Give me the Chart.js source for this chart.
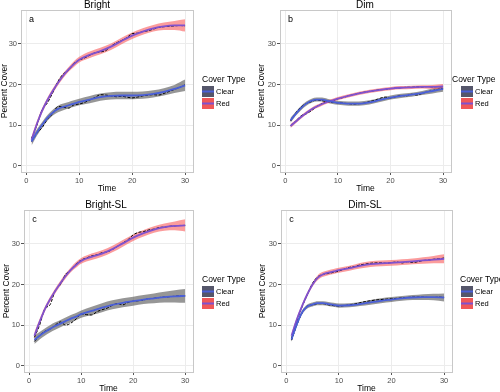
<!DOCTYPE html>
<html>
<head>
<meta charset="utf-8">
<script src="https://cdn.jsdelivr.net/npm/chart.js@4.4.1/dist/chart.umd.min.js"></script>
<style>
  html, body { margin: 0; padding: 0; background: #fff; }
  #wrap { position: relative; width: 500px; height: 392px; overflow: hidden; }
  .panel { position: absolute; width: 250px; height: 196px; }
</style>
</head>
<body>
<div id="wrap">
  <div class="panel" style="left:0;top:0"><canvas id="pa" width="250" height="196"></canvas></div>
  <div class="panel" style="left:250px;top:0"><canvas id="pb" width="250" height="196"></canvas></div>
  <div class="panel" style="left:0;top:200px"><canvas id="pc" width="250" height="196"></canvas></div>
  <div class="panel" style="left:250px;top:200px"><canvas id="pd" width="250" height="196"></canvas></div>
</div>
<script>
// time points
const tFit = [1, 2, 3, 4, 5, 6, 7, 8, 9, 10, 12, 14, 16, 18, 20, 22, 24, 26, 28, 30];
const tRaw = [1, 2, 3, 4, 5, 6, 7, 8, 9, 10, 11, 12, 13, 14, 15, 16, 17, 18, 19, 20, 21, 22, 23, 24, 25, 26, 27, 28, 29, 30];
const xTicks = [0, 10, 20, 30];
const yTicks = [0, 10, 20, 30];
const coverTypes = ['Clear', 'Red'];
const panelTitles = ['Bright', 'Dim', 'Bright-SL', 'Dim-SL'];
const panelTags = ['a', 'b', 'c', 'c'];

// Bright
const brightClearFit = [6.0, 8.2, 10.1, 11.8, 13.1, 14.0, 14.5, 14.9, 15.3, 15.7, 16.3, 16.9, 17.2, 17.3, 17.3, 17.4, 17.7, 18.2, 18.9, 19.8];
const brightClearSe  = [1.0, 0.8, 0.7, 0.7, 0.7, 0.8, 0.8, 0.8, 0.8, 0.8, 0.9, 0.9, 0.9, 0.9, 0.9, 0.9, 0.9, 0.9, 1.0, 1.4];
const brightRedFit   = [6.4, 10.3, 13.6, 16.2, 18.4, 20.4, 22.2, 23.7, 25.0, 26.1, 27.3, 28.2, 29.3, 30.7, 32.0, 33.0, 33.8, 34.3, 34.5, 34.5];
const brightRedSe    = [0.9, 0.7, 0.6, 0.6, 0.6, 0.6, 0.6, 0.6, 0.7, 0.7, 0.8, 0.8, 0.8, 0.8, 0.8, 0.8, 0.8, 0.9, 1.1, 1.5];
const brightClearRaw = [6.0, 8.0, 9.4, 11.5, 12.8, 14.6, 14.4, 14.2, 15.0, 15.2, 15.6, 16.2, 16.8, 17.5, 17.4, 17.2, 17.0, 17.1, 16.9, 16.7, 16.9, 17.2, 17.4, 17.5, 17.4, 17.8, 18.3, 18.8, 19.3, 19.9];
const brightRedRaw   = [6.8, 10.0, 13.8, 15.5, 18.0, 20.8, 22.6, 23.5, 25.2, 26.0, 26.5, 27.2, 27.8, 28.0, 28.3, 29.4, 30.2, 30.8, 31.5, 32.5, 32.6, 33.0, 33.2, 33.6, 34.0, 34.2, 34.3, 34.4, 34.5, 34.4];

// Dim
const dimClearFit = [11.2, 12.8, 14.2, 15.3, 16.0, 16.3, 16.3, 16.0, 15.7, 15.5, 15.3, 15.3, 15.6, 16.2, 16.8, 17.2, 17.5, 17.9, 18.4, 18.9];
const dimClearSe  = [0.6, 0.5, 0.5, 0.5, 0.5, 0.5, 0.5, 0.5, 0.5, 0.5, 0.5, 0.5, 0.5, 0.5, 0.5, 0.5, 0.5, 0.5, 0.6, 0.7];
const dimRedFit   = [9.8, 10.9, 12.0, 13.0, 13.9, 14.6, 15.2, 15.7, 16.1, 16.5, 17.2, 17.8, 18.3, 18.7, 19.0, 19.2, 19.3, 19.4, 19.4, 19.5];
const dimRedSe    = [0.5, 0.4, 0.4, 0.4, 0.4, 0.4, 0.4, 0.4, 0.4, 0.4, 0.4, 0.4, 0.4, 0.4, 0.4, 0.4, 0.4, 0.4, 0.5, 0.6];
const dimClearRaw = [11.0, 13.0, 14.5, 15.3, 15.8, 16.2, 16.0, 15.8, 15.6, 15.5, 15.4, 15.3, 15.2, 15.3, 15.4, 15.8, 16.1, 16.6, 16.9, 16.7, 17.0, 17.3, 17.2, 17.6, 17.4, 17.8, 18.2, 18.5, 18.8, 19.0];
const dimRedRaw   = [9.9, 11.0, 12.3, 12.8, 13.6, 14.6, 15.3, 15.8, 16.0, 16.5, 16.8, 17.2, 17.5, 17.8, 18.1, 18.3, 18.5, 18.7, 18.8, 19.0, 19.1, 19.2, 19.3, 19.3, 19.4, 19.4, 19.5, 19.4, 19.5, 19.4];

// Bright-SL
const brightSLClearFit = [6.4, 7.4, 8.3, 9.1, 9.8, 10.4, 11.0, 11.6, 12.1, 12.7, 13.5, 14.3, 15.0, 15.5, 15.9, 16.3, 16.6, 16.9, 17.1, 17.2];
const brightSLClearSe  = [1.0, 0.9, 0.9, 0.9, 0.9, 0.9, 0.9, 0.9, 0.9, 0.9, 1.0, 1.1, 1.1, 1.1, 1.1, 1.1, 1.2, 1.3, 1.5, 1.7];
const brightSLRedFit   = [7.4, 10.8, 13.9, 16.3, 18.4, 20.3, 22.1, 23.6, 24.8, 25.8, 26.8, 27.6, 28.7, 30.1, 31.5, 32.6, 33.5, 34.1, 34.4, 34.5];
const brightSLRedSe    = [0.9, 0.7, 0.6, 0.6, 0.6, 0.6, 0.6, 0.6, 0.7, 0.7, 0.8, 0.8, 0.8, 0.8, 0.8, 0.8, 0.8, 0.9, 1.1, 1.5];
const brightSLClearRaw = [6.0, 7.5, 8.5, 9.0, 10.0, 10.8, 10.0, 10.5, 11.5, 12.8, 12.6, 12.5, 13.3, 13.8, 14.2, 14.9, 15.3, 15.0, 15.6, 15.9, 16.0, 16.2, 16.5, 16.6, 16.8, 16.9, 17.0, 17.1, 17.2, 17.2];
const brightSLRedRaw   = [7.0, 10.0, 14.0, 15.0, 18.5, 20.0, 22.5, 23.5, 25.0, 26.0, 26.5, 27.0, 27.3, 27.8, 28.0, 28.6, 29.4, 30.2, 31.0, 32.2, 32.8, 33.0, 33.4, 33.6, 34.0, 34.1, 34.3, 34.4, 34.5, 34.5];

// Dim-SL
const dimSLClearFit = [6.5, 10.2, 13.1, 14.6, 15.1, 15.4, 15.4, 15.2, 15.0, 14.8, 14.9, 15.2, 15.6, 16.0, 16.3, 16.6, 16.8, 16.9, 16.9, 16.8];
const dimSLClearSe  = [0.6, 0.5, 0.5, 0.5, 0.5, 0.5, 0.5, 0.5, 0.5, 0.5, 0.5, 0.5, 0.6, 0.6, 0.6, 0.6, 0.6, 0.7, 0.8, 1.0];
const dimSLRedFit   = [7.4, 11.4, 14.7, 17.6, 20.0, 21.7, 22.5, 22.9, 23.2, 23.5, 24.0, 24.6, 25.0, 25.2, 25.3, 25.5, 25.7, 25.9, 26.1, 26.3];
const dimSLRedSe    = [0.6, 0.5, 0.5, 0.5, 0.5, 0.6, 0.6, 0.6, 0.6, 0.6, 0.6, 0.7, 0.7, 0.7, 0.7, 0.7, 0.7, 0.8, 0.9, 1.1];
const dimSLClearRaw = [6.3, 10.0, 13.0, 14.7, 15.0, 15.3, 15.3, 15.0, 14.8, 14.7, 14.8, 15.0, 15.2, 15.5, 15.8, 16.0, 16.2, 16.3, 16.4, 16.5, 16.6, 16.7, 16.8, 16.9, 16.9, 16.9, 16.8, 16.8, 16.9, 16.8];
const dimSLRedRaw   = [6.8, 11.0, 14.5, 17.5, 20.3, 21.9, 22.5, 22.7, 23.0, 23.3, 23.8, 24.2, 24.4, 24.8, 25.0, 25.2, 25.3, 25.3, 25.2, 25.4, 25.5, 25.3, 25.6, 25.4, 25.6, 25.9, 26.0, 26.2, 26.3, 26.5];

const FONT = '"Liberation Sans", Arial, sans-serif';
const clearBand = 'rgba(80, 80, 80, 0.6)';
const redBand = 'rgba(248, 90, 90, 0.6)';
const clearLine = '#4a5fd8';
const redLine = '#7f52cf';

function pts(ts, ys) {
    return ts.map((t, i) => ({ x: t, y: ys[i] }));
}
function band(fit, se, sign) {
    return tFit.map((t, i) => ({ x: t, y: fit[i] + sign * se[i] }));
}

// titles, tag letter, border and legend drawn on top
const deco = {
    id: 'deco',
    afterDatasetsDraw(chart, args, o) {
        const ctx = chart.ctx, a = chart.chartArea;
        const xs = chart.scales.x, ys = chart.scales.y;
        ctx.save();
        ctx.strokeStyle = '#c8c8c8';
        ctx.lineWidth = 1;
        ctx.strokeRect(Math.round(a.left) + 0.5, Math.round(a.top) + 0.5, Math.round(a.right - a.left), Math.round(a.bottom - a.top));
        ctx.fillStyle = '#000';
        ctx.font = '9px ' + FONT;
        ctx.textAlign = 'center';
        ctx.textBaseline = 'middle';
        ctx.fillText(o.tag, xs.getPixelForValue(1), ys.getPixelForValue(36));
        ctx.restore();
    },
    afterDraw(chart, args, o) {
        const ctx = chart.ctx;
        ctx.save();
        ctx.fillStyle = '#000';
        ctx.textBaseline = 'middle';
        ctx.textAlign = 'center';
        ctx.font = '10px ' + FONT;
        ctx.fillText(o.title, o.titleX, 5);
        ctx.textAlign = 'left';
        ctx.font = '8.5px ' + FONT;
        ctx.fillText('Cover Type', o.legendX, 80);
        const fills = ['#55566a', '#f05858'];
        const lines = [clearLine, redLine];
        coverTypes.forEach((name, i) => {
            const y = 86 + i * 12;
            ctx.fillStyle = fills[i];
            ctx.fillRect(o.keyX, y, 12, 11);
            ctx.strokeStyle = lines[i];
            ctx.lineWidth = 2;
            ctx.beginPath();
            ctx.moveTo(o.keyX, y + 5.5);
            ctx.lineTo(o.keyX + 12, y + 5.5);
            ctx.stroke();
            ctx.fillStyle = '#000';
            ctx.font = '7.5px ' + FONT;
            ctx.fillText(name, o.keyX + 14, y + 5.5);
        });
        ctx.restore();
    }
};

function makePanel(id, idx, clearFit, clearSe, redFit, redSe, clearRaw, redRaw, lay) {
    const datasets = [
        { data: band(clearFit, clearSe, -1), borderWidth: 0, fill: false, order: 10 },
        { data: band(clearFit, clearSe, 1), borderWidth: 0, fill: { target: 0 }, backgroundColor: clearBand, order: 10 },
        { data: band(redFit, redSe, -1), borderWidth: 0, fill: false, order: 9 },
        { data: band(redFit, redSe, 1), borderWidth: 0, fill: { target: 2 }, backgroundColor: redBand, order: 9 },
        { label: coverTypes[0], data: pts(tRaw, clearRaw), borderColor: '#000', borderWidth: 1, borderDash: [3, 1.5], tension: 0, order: 5 },
        { label: coverTypes[1], data: pts(tRaw, redRaw), borderColor: '#000', borderWidth: 1, borderDash: [3, 1.5], tension: 0, order: 5 },
        { data: pts(tFit, clearFit), borderColor: clearLine, borderWidth: 1.8, cubicInterpolationMode: 'monotone', order: 1 },
        { data: pts(tFit, redFit), borderColor: redLine, borderWidth: 1.8, cubicInterpolationMode: 'monotone', order: 1 }
    ];
    datasets.forEach(d => { d.pointRadius = 0; d.cubicInterpolationMode = d.cubicInterpolationMode || 'monotone'; });

    new Chart(document.getElementById(id), {
        type: 'line',
        data: { datasets: datasets },
        plugins: [deco],
        options: {
            responsive: false,
            animation: false,
            events: [],
            layout: { padding: { top: 10, left: lay.padLeft, right: 250 - lay.plotRight, bottom: 0 } },
            plugins: {
                legend: { display: false },
                tooltip: { enabled: false },
                deco: { title: panelTitles[idx], tag: panelTags[idx], titleX: lay.titleX, legendX: lay.legendX, keyX: lay.keyX }
            },
            scales: {
                x: {
                    type: 'linear',
                    min: -1,
                    max: 31.5,
                    afterBuildTicks: s => { s.ticks = xTicks.map(v => ({ value: v })); },
                    afterFit: s => { s.height = 24; },
                    grid: { color: '#ececec', tickColor: '#555', tickLength: 3 },
                    border: { display: false },
                    ticks: { font: { family: FONT, size: 7.5 }, color: '#4d4d4d', padding: 1, maxRotation: 0 },
                    title: { display: true, text: 'Time', font: { family: FONT, size: 8.5 }, color: '#000', padding: { top: 0, bottom: 2 } }
                },
                y: {
                    min: -1.5,
                    max: 38.3,
                    afterBuildTicks: s => { s.ticks = yTicks.map(v => ({ value: v })); },
                    afterFit: s => { s.width = lay.yW; },
                    grid: { color: '#ececec', tickColor: '#555', tickLength: 3 },
                    border: { display: false },
                    ticks: { font: { family: FONT, size: 7.5 }, color: '#4d4d4d', padding: 1 },
                    title: { display: true, text: 'Percent Cover', font: { family: FONT, size: 8.5 }, color: '#000', padding: 0 }
                }
            }
        }
    });
}

makePanel('pa', 0, brightClearFit, brightClearSe, brightRedFit, brightRedSe, brightClearRaw, brightRedRaw,
    { padLeft: 0, yW: 21, plotRight: 193, titleX: 97, legendX: 202, keyX: 202 });
makePanel('pb', 1, dimClearFit, dimClearSe, dimRedFit, dimRedSe, dimClearRaw, dimRedRaw,
    { padLeft: 7, yW: 23, plotRight: 201, titleX: 115, legendX: 202, keyX: 211 });
makePanel('pc', 2, brightSLClearFit, brightSLClearSe, brightSLRedFit, brightSLRedSe, brightSLClearRaw, brightSLRedRaw,
    { padLeft: 2, yW: 22, plotRight: 193, titleX: 106, legendX: 202, keyX: 202 });
makePanel('pd', 3, dimSLClearFit, dimSLClearSe, dimSLRedFit, dimSLRedSe, dimSLClearRaw, dimSLRedRaw,
    { padLeft: 8, yW: 23, plotRight: 202, titleX: 115, legendX: 210, keyX: 211 });
</script>
</body>
</html>
